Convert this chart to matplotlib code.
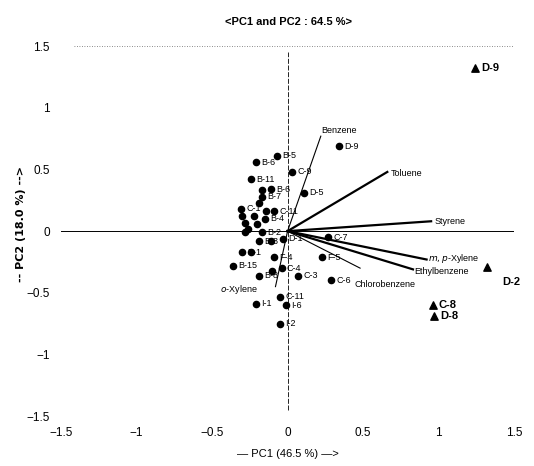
import matplotlib
matplotlib.use("Agg")
import matplotlib.pyplot as plt

plt.rcParams['font.family'] = ['Liberation Sans', 'DejaVu Sans']

# Scores (circles)
pt_labels = ["B-5", "B-6", "C-9", "B-11", "D-5", "B-6", "", "D-9", "B-7", "", "C-1", "", "", "C-11",
             "", "B-4", "", "", "", "B-2", "", "B-3", "", "D-1", "B-1", "", "F-4", "", "C-4",
             "B-15", "B-8", "C-7", "F-5", "C-3", "C-6", "C-11", "I-6", "I-1", "I-2"]
pt_x = [-0.07, -0.21, 0.03, -0.24, 0.11, -0.11, -0.17, 0.34, -0.17, -0.19, -0.31, -0.30, -0.14, -0.09,
        -0.22, -0.15, -0.28, -0.20, -0.26, -0.17, -0.28, -0.19, -0.11, -0.03, -0.30, -0.24, -0.09, -0.10, -0.04,
        -0.36, -0.19, 0.27, 0.23, 0.07, 0.29, -0.05, -0.01, -0.21, -0.05]
pt_y = [0.61, 0.56, 0.48, 0.42, 0.31, 0.34, 0.33, 0.69, 0.28, 0.23, 0.18, 0.12, 0.16, 0.16,
        0.12, 0.10, 0.07, 0.06, 0.02, -0.01, -0.01, -0.08, -0.08, -0.06, -0.17, -0.17, -0.21, -0.32, -0.30,
        -0.28, -0.36, -0.05, -0.21, -0.36, -0.40, -0.53, -0.60, -0.59, -0.75]

# Scores (triangles)
tri_labels = ["D-9", "D-2", "C-8", "D-8"]
tri_x = [1.24, 1.32, 0.96, 0.97]
tri_y = [1.32, -0.29, -0.60, -0.69]

# Loadings (variables)
var_names = ["Benzene", "Toluene", "Styrene", "m,p-Xylene", "Ethylbenzene", "Chlorobenzene", "o-Xylene"]
var_x = [0.22, 0.66, 0.95, 0.92, 0.83, 0.48, -0.08]
var_y = [0.77, 0.48, 0.08, -0.23, -0.31, -0.30, -0.45]
var_thick = [False, True, True, True, True, False, False]

fig = plt.figure(figsize=(5.34, 4.66), dpi=100)
ax = fig.add_axes([0.114, 0.107, 0.849, 0.794])
ax.set_xlim(-1.5, 1.5)
ax.set_ylim(-1.5, 1.5)
for s in ax.spines.values():
    s.set_visible(False)

ax.axhline(1.5, color='#666666', lw=0.6, ls=(0, (1, 2)), xmin=0.03)
ax.axhline(-1.5, color='#666666', lw=0.6, ls=(0, (1, 2)), xmin=0.03)
ax.plot([-1.5, 1.5], [0, 0], color='black', lw=0.7)
ax.plot([0, 0], [-1.45, 1.45], color='black', lw=0.6, ls=(0, (6, 2)))

ax.set_xticks([-1.5, -1, -0.5, 0, 0.5, 1, 1.5])
ax.set_xticklabels(["\u22121.5", "\u22121", "\u22120.5", "0", "0.5", "1", "1.5"])
ax.set_yticks([-1.5, -1, -0.5, 0, 0.5, 1, 1.5])
ax.set_yticklabels(["\u22121.5", "\u22121", "\u22120.5", "0", "0.5", "1", "1.5"])
ax.tick_params(length=0, labelsize=8.5, pad=8)

# loadings
for n, x, y, t in zip(var_names, var_x, var_y, var_thick):
    ax.plot([0, x], [0, y], color='black', lw=1.6 if t else 0.8)

ax.text(0.22, 0.78, "Benzene", fontsize=6.5, ha='left', va='bottom')
ax.text(0.68, 0.47, "Toluene", fontsize=6.5, ha='left', va='center')
ax.text(0.97, 0.08, "Styrene", fontsize=6.5, ha='left', va='center')
ax.text(0.93, -0.22, r"$\it{m,p}$" + "-Xylene", fontsize=6.5, ha='left', va='center')
ax.text(0.84, -0.33, "Ethylbenzene", fontsize=6.5, ha='left', va='center')
ax.text(0.44, -0.43, "Chlorobenzene", fontsize=6.5, ha='left', va='center')
ax.text(-0.45, -0.47, r"$\it{o}$" + "-Xylene", fontsize=6.5, ha='left', va='center')

ax.scatter(pt_x, pt_y, s=20, color='black', marker='o', zorder=3)
for l, x, y in zip(pt_labels, pt_x, pt_y):
    if l:
        ax.text(x + 0.035, y, l, fontsize=6.5, ha='left', va='center')

ax.scatter(tri_x, tri_y, s=28, color='black', marker='^', zorder=3)
ax.text(tri_x[0] + 0.04, tri_y[0], tri_labels[0], fontsize=8, fontweight='bold', ha='left', va='center')
ax.text(tri_x[1] + 0.1, tri_y[1] - 0.12, tri_labels[1], fontsize=8, fontweight='bold', ha='left', va='center')
ax.text(tri_x[2] + 0.04, tri_y[2], tri_labels[2], fontsize=8, fontweight='bold', ha='left', va='center')
ax.text(tri_x[3] + 0.04, tri_y[3], tri_labels[3], fontsize=8, fontweight='bold', ha='left', va='center')

fig.text(0.54, 0.953, "<PC1 and PC2 : 64.5 %>", fontsize=8, fontweight='bold', ha='center', va='center')
fig.text(0.54, 0.025, "\u2014 PC1 (46.5 %) \u2014>", fontsize=8, ha='center', va='center')
fig.text(0.04, 0.52, "-- PC2 (18.0 %) -->", fontsize=8, fontweight='bold', rotation=90,
         ha='center', va='center', family='DejaVu Sans')

fig.savefig("out.png", dpi=100)
